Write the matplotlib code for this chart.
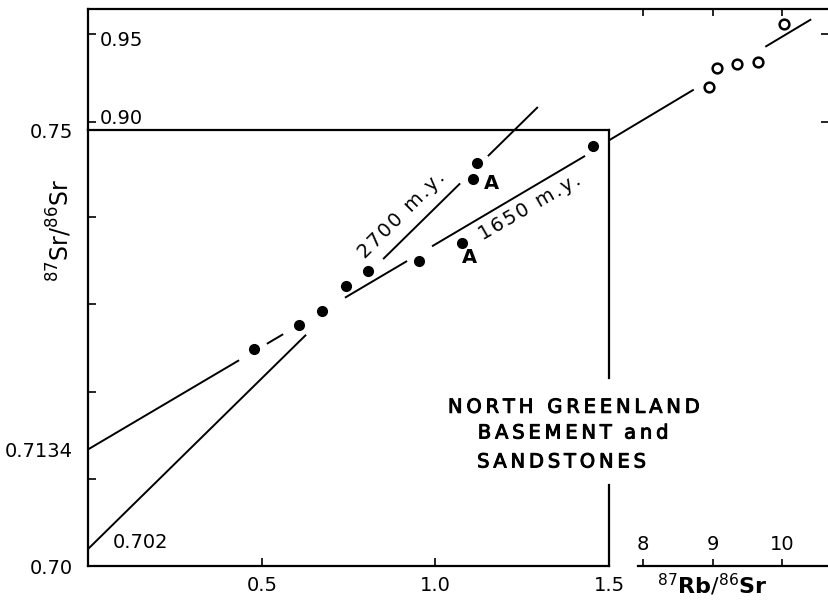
import matplotlib.pyplot as plt
import matplotlib.patheffects as pe

# 87Rb/86Sr vs 87Sr/86Sr, low-ratio samples (filled)
rb_sr = [0.477, 0.607, 0.673, 0.742, 0.805, 0.952, 1.076, 1.108, 1.120, 1.454]
sr_sr = [0.7249, 0.7276, 0.7292, 0.7321, 0.7338, 0.7350, 0.7370, 0.7444, 0.7462, 0.7482]
# high-ratio samples on the broken scale (open)
rb_sr_hi = [8.95, 9.06, 9.35, 9.65, 10.03]
sr_sr_hi = [0.9201, 0.9308, 0.9331, 0.9342, 0.9556]

# isochrons as (initial ratio, slope)
iso_1650 = (0.7134, 0.0235)
iso_2700 = (0.702, 0.0391)
# x ranges where the isochron lines are drawn
segs_1650 = [(0.0, 0.434), (0.514, 0.561), (0.739, 0.918), (0.990, 1.431)]
segs_1650_hi = [(7.51, 8.73), (9.76, 10.42)]
segs_2700 = [(0.0, 0.627), (0.849, 1.071), (1.151, 1.295)]

a_labels_x = [1.099, 1.160]
a_labels_y = [0.7354, 0.7439]

LW = 1.4
FS = 14
bolder = [pe.withStroke(linewidth=0.7, foreground='black')]


def spaced(s, sep='\u2009'):
    return sep.join(s)


def iso_line(ax, iso, segs):
    b, m = iso
    for x0, x1 in segs:
        ax.plot([x0, x1], [b + m * x0, b + m * x1], color='black', lw=LW,
                clip_on=False, solid_capstyle='butt')


fig = plt.figure(figsize=(8.29, 6.09), dpi=100)
W, H = 829, 609

# outer (broken) axes for the 8-10 range
ax_out = fig.add_axes([88.5 / W, (H - 566) / H, (W - 88.5) / W, (566 - 9) / H])
ax_out.set_facecolor('none')
ax_out.set_xlim(0.0216, 10.676)
ax_out.set_ylim(0.6494, 0.9641)
ax_out.spines['right'].set_visible(False)
for side in ['left', 'top', 'bottom']:
    ax_out.spines[side].set_linewidth(1.6)
ax_out.spines['left'].set_bounds(0.8958, 0.9641)
ax_out.spines['bottom'].set_bounds(7.93, 10.676)
ax_out.set_xticks([8, 9, 10])
ax_out.set_yticks([0.90, 0.95])
ax_out.tick_params(axis='both', direction='in', length=5, width=1.2,
                   top=True, right=True, labelleft=False, labelbottom=False)
ax_out.tick_params(axis='y', length=6)

for x in [8, 9, 10]:
    ax_out.text(x, 0.6613, str(x), ha='center', va='center', fontsize=FS)
ax_out.text(0.19, 0.9500 - 0.0038, '0.95', ha='left', va='center', fontsize=FS)
ax_out.text(0.19, 0.9000 + 0.0025, '0.90', ha='left', va='center', fontsize=FS)
ax_out.text(9.0, 0.6387, r'$^{87}\mathbf{Rb}/^{86}\mathbf{Sr}$', ha='center', va='center',
            fontsize=16)

ax_out.plot(rb_sr_hi, sr_sr_hi, 'o', mfc='white', mec='black', mew=1.8, ms=7)
iso_line(ax_out, iso_1650, segs_1650_hi)

# inner axes 0-1.5
ax = fig.add_axes([88.5 / W, (H - 566) / H, (609 - 88.5) / W, (566 - 130) / H])
ax.set_facecolor('none')
ax.set_xlim(0, 1.5)
ax.set_ylim(0.70, 0.75)
ax.spines['right'].set_visible(False)
for side in ['left', 'top', 'bottom']:
    ax.spines[side].set_linewidth(1.6)
ax.axvline(1.5, 0, 0.186, color='black', lw=1.6, clip_on=False)
ax.axvline(1.5, 0.431, 1, color='black', lw=1.6, clip_on=False)

ax.set_xticks([0.5, 1.0, 1.5])
ax.set_xticklabels(['0.5', '1.0', '1.5'])
ax.set_yticks([0.70, 0.71, 0.72, 0.73, 0.74, 0.75])
ax.set_yticklabels(['0.70', '', '', '', '', '0.75'])
ax.set_yticks([0.7134], minor=True)
ax.set_yticklabels(['0.7134'], minor=True)
ax.tick_params(axis='both', which='major', direction='in', length=6, width=1.2,
               labelsize=FS, pad=7)
ax.tick_params(axis='y', which='minor', length=0, labelsize=FS, pad=11)
ax.tick_params(axis='y', which='major', pad=11)

ax.set_ylabel(r'$^{87}\mathrm{Sr}/^{86}\mathrm{Sr}$', fontsize=17, labelpad=0)
ax.yaxis.set_label_coords(-0.028, 0.77)

iso_line(ax, iso_1650, segs_1650)
iso_line(ax, iso_2700, segs_2700)
ax.plot(rb_sr, sr_sr, 'o', color='black', ms=7, clip_on=False)

for x, y in zip(a_labels_x, a_labels_y):
    ax.text(x, y, 'A', ha='center', va='center', fontsize=FS, fontweight='bold')

ax.text(0.903, 0.7403, spaced('2700 m.y.', '\u200a'), rotation=45,
        rotation_mode='anchor', ha='center', va='center', fontsize=FS)
ax.text(1.272, 0.7412, spaced('1650 m.y.', '\u200a'), rotation=30,
        rotation_mode='anchor', ha='center', va='center', fontsize=FS)
ax.text(0.071, 0.70275, '0.702', ha='left', va='center', fontsize=FS)

ax.text(1.036, 0.7182, spaced('NORTH GREENLAND'), ha='left', va='center',
        fontsize=14, path_effects=bolder)
ax.text(1.122, 0.71525, spaced('BASEMENT') + '  ' + spaced('and'), ha='left',
        va='center', fontsize=14, path_effects=bolder)
ax.text(1.120, 0.71193, spaced('SANDSTONES'), ha='left', va='center',
        fontsize=14, path_effects=bolder)

fig.savefig('out.png', dpi=100)
